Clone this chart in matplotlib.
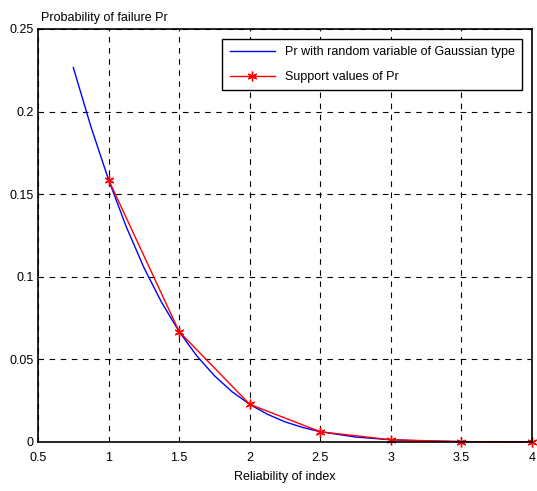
import matplotlib.pyplot as plt
from matplotlib import font_manager

# values
beta_curve = [0.75, 0.875, 1.0, 1.125, 1.25, 1.375, 1.5, 1.625, 1.75, 1.875,
              2.0, 2.125, 2.25, 2.375, 2.5, 2.75, 3.0, 3.25, 3.5, 3.75, 4.0]
pr_curve = [0.2266, 0.1908, 0.1587, 0.1303, 0.1056, 0.0846, 0.0668, 0.0521,
            0.0401, 0.0304, 0.0228, 0.0168, 0.0122, 0.0088, 0.0062, 0.0030,
            0.00135, 0.00058, 0.00023, 0.00009, 0.00003]

beta_support = [1.0, 1.5, 2.0, 2.5, 3.0, 3.5, 4.0]
pr_support = [0.1587, 0.0668, 0.0228, 0.0062, 0.00135, 0.00023, 0.00003]

xticks = [0.5, 1, 1.5, 2, 2.5, 3, 3.5, 4]
xtick_labels = ["0.5", "1", "1.5", "2", "2.5", "3", "3.5", "4"]
yticks = [0, 0.05, 0.1, 0.15, 0.2, 0.25]
ytick_labels = ["0", "0.05", "0.1", "0.15", "0.2", "0.25"]

names = {f.name for f in font_manager.fontManager.ttflist}
family = "Liberation Sans Narrow" if "Liberation Sans Narrow" in names else "Liberation Sans"
plt.rcParams["font.family"] = [family, "DejaVu Sans"]
fs = 9 if family.endswith("Narrow") else 8.5

fig = plt.figure(figsize=(5.37, 4.91), dpi=100, facecolor="w")
ax = fig.add_axes([0.0708, 0.0998, 0.92, 0.8412])

ax.plot(beta_curve, pr_curve, color="b", lw=1.0,
        label="Pr with random variable of Gaussian type")
ax.plot(beta_support, pr_support, color="r", lw=1.0, marker=(6, 2, 0), ms=7,
        mew=1.0, label="Support values of Pr", clip_on=False)

ax.set_xlim(0.5, 4)
ax.set_ylim(0, 0.25)
ax.set_xticks(xticks)
ax.set_xticklabels(xtick_labels)
ax.set_yticks(yticks)
ax.set_yticklabels(ytick_labels)
ax.tick_params(axis="x", direction="in", length=0, pad=7, labelsize=fs + 0.5)
ax.tick_params(axis="y", direction="in", length=0, pad=3, labelsize=fs + 0.5)
ax.grid(True, color="k", ls=(0, (5, 5)), lw=0.8)
for spine in ax.spines.values():
    spine.set_linewidth(1.2)

ax.set_xlabel("Reliability of index", fontsize=fs + 0.5, labelpad=5)
ax.text(0.006, 1.012, "Probability of failure Pr", transform=ax.transAxes,
        fontsize=fs + 0.5, ha="left", va="bottom")

leg = ax.legend(loc="upper right", fancybox=False, edgecolor="k",
                framealpha=1, fontsize=fs + 0.5, handlelength=3.6,
                borderaxespad=0.8, labelspacing=1.0, borderpad=0.6)
leg.get_frame().set_linewidth(1.0)

fig.savefig("out.png", dpi=100)
